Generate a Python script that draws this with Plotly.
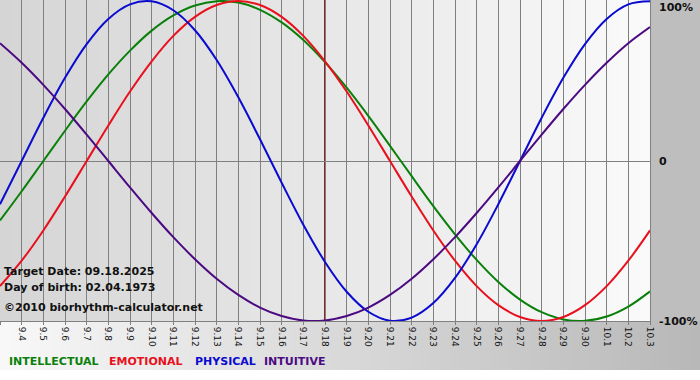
import numpy as np
import plotly.graph_objects as go

# ---------------- data ----------------
day_labels = ["9.3", "9.4", "9.5", "9.6", "9.7", "9.8", "9.9", "9.10", "9.11", "9.12",
              "9.13", "9.14", "9.15", "9.16", "9.17", "9.18", "9.19", "9.20", "9.21", "9.22",
              "9.23", "9.24", "9.25", "9.26", "9.27", "9.28", "9.29", "9.30", "10.1", "10.2", "10.3"]

intellectual = [-0.372, -0.189, 0.0, 0.189, 0.372, 0.541, 0.690, 0.815, 0.910, 0.972,
                0.999, 0.990, 0.945, 0.866, 0.756, 0.618, 0.458, 0.282, 0.095, -0.095,
                -0.282, -0.458, -0.618, -0.756, -0.866, -0.945, -0.990, -0.999, -0.972, -0.910,
                -0.815]
emotional = [-0.782, -0.623, -0.434, -0.222, 0.0, 0.222, 0.434, 0.623, 0.782, 0.901,
             0.975, 1.0, 0.975, 0.901, 0.782, 0.623, 0.434, 0.222, 0.0, -0.222,
             -0.434, -0.623, -0.782, -0.901, -0.975, -1.0, -0.975, -0.901, -0.782, -0.623,
             -0.434]
physical = [-0.270, 0.0, 0.270, 0.520, 0.731, 0.888, 0.979, 0.998, 0.942, 0.817,
            0.631, 0.398, 0.136, -0.136, -0.398, -0.631, -0.817, -0.942, -0.998, -0.979,
            -0.888, -0.731, -0.520, -0.270, 0.0, 0.270, 0.520, 0.731, 0.888, 0.979,
            0.998]
intuitive = [0.736, 0.614, 0.476, 0.325, 0.165, 0.0, -0.165, -0.325, -0.476, -0.614,
             -0.736, -0.837, -0.916, -0.969, -0.997, -0.997, -0.969, -0.916, -0.837, -0.736,
             -0.614, -0.476, -0.325, -0.165, 0.0, 0.165, 0.325, 0.476, 0.614, 0.736,
             0.837]

target_label = "9.18"
target_text = "Target Date: 09.18.2025"
birth_text = "Day of birth: 02.04.1973"
copyright_text = "©2010 biorhythm-calculator.net"
y_tick_vals = [1, 0, -1]
y_tick_text = ["100%", "0", "-100%"]

series = [
    ("INTELLECTUAL", intellectual, "#0a800a"),
    ("EMOTIONAL", emotional, "#e8101c"),
    ("PHYSICAL", physical, "#0a0ad0"),
    ("INTUITIVE", intuitive, "#4b0a82"),
]

# ---------------- figure ----------------
W, H = 700, 380
L, R, T, B = 0, 50, 0, 59
PW = W - L - R
PH = H - T - B
FONT = "DejaVu Sans"

x = list(range(len(day_labels)))
fig = go.Figure()
for name, vals, col in series:
    fig.add_trace(go.Scatter(x=x, y=vals, mode="lines", name=name,
                             line=dict(color=col, width=2, shape="spline", smoothing=1.0),
                             showlegend=False, hoverinfo="skip"))

shapes = []

def lerp(c0, c1, t):
    return tuple(int(round(a + (b - a) * t)) for a, b in zip(c0, c1))

# plot-area gradient (light grey -> nearly white)
n = 65
for i in range(n):
    c = lerp((213, 213, 213), (250, 250, 250), (i + 0.5) / n)
    shapes.append(dict(type="rect", xref="paper", yref="paper",
                       x0=i / n, x1=(i + 1) / n + 0.002, y0=0, y1=1,
                       fillcolor="rgb(%d,%d,%d)" % c, line=dict(width=0), layer="below"))
# right margin grey
shapes.append(dict(type="rect", xref="paper", yref="paper",
                   x0=1, x1=W / PW, y0=0, y1=1.01,
                   fillcolor="rgb(190,190,190)", line=dict(width=0), layer="below"))
# bottom band gradient (white -> grey)
yb = -(B - 10) / PH
m = 70
for i in range(m):
    c = lerp((248, 248, 248), (184, 184, 184), (i + 0.5) / m)
    shapes.append(dict(type="rect", xref="paper", yref="paper",
                       x0=i * (W / PW) / m, x1=(i + 1) * (W / PW) / m + 0.002, y0=yb, y1=0,
                       fillcolor="rgb(%d,%d,%d)" % c, line=dict(width=0), layer="below"))

# target date line
tx = day_labels.index(target_label)
shapes.append(dict(type="line", xref="x", yref="paper", x0=tx, x1=tx, y0=0, y1=1,
                   line=dict(color="#8a2525", width=2), layer="between"))

annotations = []
# right-side percent labels
for v, t in zip(y_tick_vals, y_tick_text):
    annotations.append(dict(x=1, xref="paper", y=v, yref="y", text="<b>%s</b>" % t,
                            xanchor="left", yanchor="middle", xshift=7,
                            yshift=-6 if v == 1 else 0, showarrow=False,
                            font=dict(family=FONT, size=11, color="#111")))

# info texts
for txt, py in [(target_text, 271), (birth_text, 287), (copyright_text, 307)]:
    annotations.append(dict(x=0, xref="paper", y=(PH - py) / PH, yref="paper",
                            text="<b>%s</b>" % txt, xanchor="left", yanchor="middle",
                            xshift=2, showarrow=False,
                            font=dict(family=FONT, size=11, color="#111")))

# colored legend words
legend_x = [7, 107, 193, 262]
for (name, _, col), lx in zip(series, legend_x):
    annotations.append(dict(x=lx / PW, xref="paper", y=(PH - 362) / PH, yref="paper",
                            text="<b>%s</b>" % name, xanchor="left", yanchor="middle",
                            showarrow=False, font=dict(family=FONT, size=11, color=col)))

fig.update_layout(
    width=W, height=H,
    margin=dict(l=L, r=R, t=T, b=B, pad=0),
    paper_bgcolor="white", plot_bgcolor="rgba(0,0,0,0)",
    shapes=shapes, annotations=annotations,
    showlegend=False,
    xaxis=dict(range=[0, len(day_labels) - 1], tickmode="array", tickvals=x, ticktext=day_labels,
               tickangle=90, tickfont=dict(family=FONT, size=9, color="#111"),
               showgrid=True, gridcolor="#808080", gridwidth=1,
               ticks="outside", ticklen=3, tickcolor="#808080",
               showline=True, linecolor="#808080", linewidth=1, mirror=True,
               zeroline=False, fixedrange=True),
    yaxis=dict(range=[-1, 161 / 160], tickmode="array", tickvals=[0], showticklabels=False,
               showgrid=True, gridcolor="#808080", gridwidth=1,
               showline=True, linecolor="#808080", linewidth=1, mirror=True,
               zeroline=False, fixedrange=True),
)

fig.write_html("out.html", config={"displayModeBar": False},
               post_script="document.body.style.margin='0';document.body.style.overflow='hidden';")
